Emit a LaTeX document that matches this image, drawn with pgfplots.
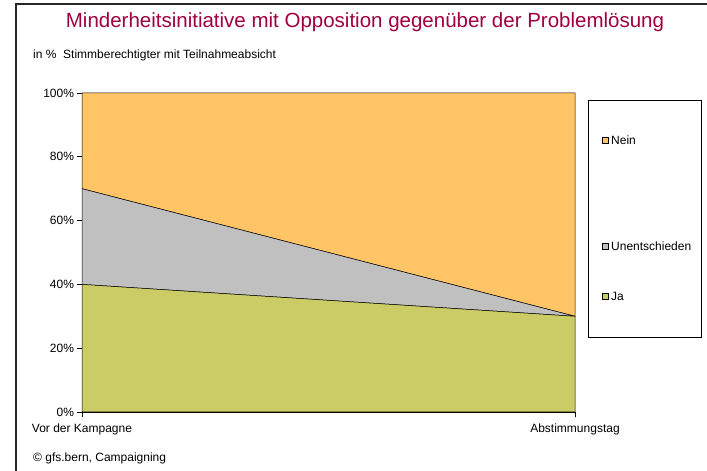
\documentclass[border=0pt]{standalone}
\usepackage{fontspec}
\setmainfont{Liberation Sans}
\usepackage{pgfplots}
\pgfplotsset{compat=1.18}
\definecolor{nein}{RGB}{255,196,102}
\definecolor{unent}{RGB}{192,192,192}
\definecolor{ja}{RGB}{204,204,102}
\definecolor{titlecol}{RGB}{160,0,60}
\begin{document}
\begin{tikzpicture}
\useasboundingbox (0pt,0pt) rectangle (707pt,471pt);
\fill[white] (0pt,0pt) rectangle (707pt,471pt);
\draw[black!85,line width=1.5pt] (16pt,-2pt) -- (16pt,467pt) -- (709pt,467pt);
\node[anchor=base,text=titlecol,font=\fontsize{20.5}{24}\selectfont,inner sep=0] at (365pt,443pt) {Minderheitsinitiative mit Opposition gegenüber der Problemlösung};
\node[anchor=base west,font=\fontsize{12}{14}\selectfont,inner sep=0] at (33pt,412pt) {in \%\ \ Stimmberechtigter mit Teilnahmeabsicht};
\node[anchor=base west,font=\fontsize{12}{14}\selectfont,inner sep=0] at (33pt,9pt) {\textcopyright\ gfs.bern, Campaigning};
\begin{axis}[
  at={(82pt,59pt)}, anchor=south west,
  width=493pt, height=319pt, scale only axis,
  xmin=0, xmax=1, ymin=0, ymax=100,
  axis x line*=bottom, axis y line*=left,
  axis line style={black,line width=0.6pt},
  xtick={0,1}, xticklabels={Vor der Kampagne,Abstimmungstag},
  ytick={0,20,40,60,80,100},
  yticklabels={0\%,20\%,40\%,60\%,80\%,100\%},
  tick align=outside, major tick length=5.5pt,
  tick style={black,line width=0.6pt},
  ticklabel style={font=\fontsize{12}{14}\selectfont},
  /pgf/number format/assume math mode=true,
  xticklabel style={yshift=-3pt},
  yticklabel style={xshift=1pt},
  stack plots=y,
  clip=false,
]
\addplot[fill=ja,draw=black,line width=0.5pt] coordinates {(0,40) (1,30)} \closedcycle;
\addplot[fill=unent,draw=black,line width=0.5pt] coordinates {(0,30) (1,0)} \closedcycle;
\addplot[fill=nein,draw=black,line width=0.5pt] coordinates {(0,30) (1,70)} \closedcycle;
\end{axis}
\draw[black,line width=0.6pt] (588pt,134pt) rectangle (701pt,371pt);
\begin{scope}[font=\fontsize{12}{14}\selectfont]
\draw[fill=nein,line width=0.5pt] (602pt,328pt) rectangle (608pt,334pt);
\node[anchor=west,inner sep=0] at (611pt,331pt) {Nein};
\draw[fill=unent,line width=0.5pt] (602pt,222pt) rectangle (608pt,228pt);
\node[anchor=west,inner sep=0] at (611pt,225pt) {Unentschieden};
\draw[fill=ja,line width=0.5pt] (602pt,172pt) rectangle (608pt,178pt);
\node[anchor=west,inner sep=0] at (611pt,175pt) {Ja};
\end{scope}
\end{tikzpicture}
\end{document}
